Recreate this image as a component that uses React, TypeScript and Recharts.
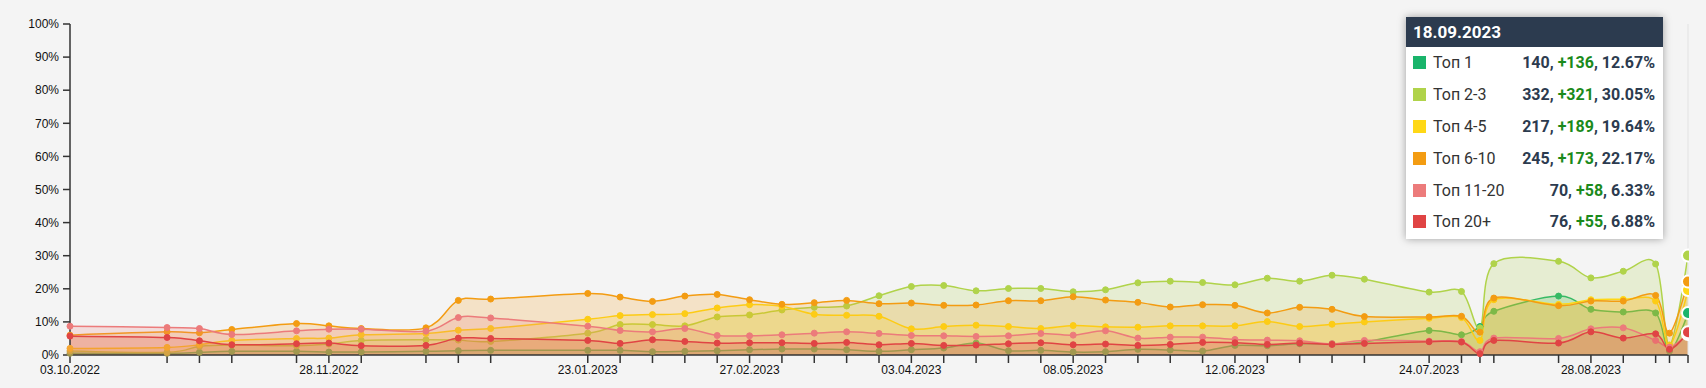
import React from "react";
import { AreaChart, Area, XAxis, YAxis, Tooltip } from "recharts";

const dates = [
  "2022-10-03", "2022-10-24", "2022-10-31", "2022-11-07", "2022-11-21", "2022-11-28", "2022-12-05",
  "2022-12-19", "2022-12-26", "2023-01-02", "2023-01-23", "2023-01-30", "2023-02-06", "2023-02-13",
  "2023-02-20", "2023-02-27", "2023-03-06", "2023-03-13", "2023-03-20", "2023-03-27", "2023-04-03",
  "2023-04-10", "2023-04-17", "2023-04-24", "2023-05-01", "2023-05-08", "2023-05-15", "2023-05-22",
  "2023-05-29", "2023-06-05", "2023-06-12", "2023-06-19", "2023-06-26", "2023-07-03", "2023-07-10",
  "2023-07-24", "2023-07-31", "2023-08-04", "2023-08-07", "2023-08-21", "2023-08-28", "2023-09-04",
  "2023-09-11", "2023-09-14", "2023-09-18",
];

// share of keywords per position group, %
const top1 = [
  0.5, 0.5, 0.8, 1.1, 1.1, 0.9, 0.9, 1.1, 1.3, 1.4, 1.4, 1.4, 1.0, 1.1, 1.3, 1.6, 1.8, 1.8, 1.6, 1.1, 1.6,
  2.1, 3.6, 1.3, 1.4, 0.9, 1.0, 1.7, 1.5, 1.2, 2.9, 2.8, 3.4, 3.4, 3.9, 7.4, 6.1, 8.6, 13.2, 17.8, 13.8,
  13.0, 12.7, 1.2, 12.67,
];
const top2to3 = [
  1.2, 0.8, 2.6, 3.0, 2.8, 3.3, 4.4, 4.6, 4.5, 4.1, 6.6, 9.2, 9.2, 8.8, 11.5, 12.1, 13.6, 14.4, 14.8, 17.9,
  20.7, 21.0, 19.4, 20.1, 20.1, 19.1, 19.7, 21.8, 22.3, 21.9, 21.2, 23.2, 22.3, 24.1, 22.9, 19.0, 19.2, 8.2,
  27.6, 28.3, 23.3, 25.3, 27.5, 3.0, 30.05,
];
const top4to5 = [
  2.0, 2.3, 3.1, 4.4, 5.0, 5.1, 6.1, 6.5, 7.5, 8.0, 10.8, 11.9, 12.2, 12.5, 14.2, 15.2, 14.7, 12.3, 12.0,
  11.7, 7.9, 8.6, 9.0, 8.6, 8.0, 8.9, 8.5, 8.4, 8.8, 8.8, 8.8, 10.1, 8.6, 9.3, 10.0, 11.1, 11.3, 4.4, 16.7,
  15.3, 16.7, 16.8, 16.3, 2.9, 19.64,
];
const top6to10 = [
  6.0, 7.0, 6.7, 7.7, 9.5, 8.8, 8.0, 8.2, 16.5, 16.9, 18.6, 17.5, 16.2, 17.8, 18.3, 16.7, 15.3, 15.8, 16.5,
  15.5, 15.7, 15.0, 15.1, 16.4, 16.4, 17.6, 16.6, 15.9, 14.5, 15.2, 15.0, 12.7, 14.4, 13.8, 11.6, 11.5,
  11.7, 6.9, 17.2, 14.9, 16.3, 16.3, 18.0, 6.6, 22.17,
];
const top11to20 = [
  8.7, 8.3, 8.0, 6.2, 7.3, 7.8, 7.8, 7.2, 11.3, 11.2, 8.7, 7.4, 7.0, 8.0, 5.9, 5.8, 6.1, 6.6, 7.0, 6.5,
  5.9, 5.8, 5.6, 5.8, 6.5, 6.0, 7.3, 5.1, 5.4, 5.4, 4.7, 4.5, 4.3, 3.4, 4.4, 4.2, 4.1, 1.0, 5.1, 5.0, 7.9,
  8.2, 4.4, 2.4, 6.33,
];
const top20plus = [
  5.7, 5.3, 4.3, 3.1, 3.4, 3.6, 2.8, 2.9, 5.1, 5.0, 4.4, 3.5, 4.6, 4.1, 3.6, 3.7, 3.7, 3.5, 3.8, 3.1, 3.5,
  2.9, 3.0, 3.4, 3.7, 3.1, 3.3, 2.9, 3.2, 3.8, 3.7, 3.2, 3.6, 3.2, 3.5, 4.0, 3.9, 0.4, 4.4, 3.6, 7.0, 5.1,
  6.4, 1.7, 6.88,
];

const seriesNames = ["Топ 1", "Топ 2-3", "Топ 4-5", "Топ 6-10", "Топ 11-20", "Топ 20+"];
const seriesKeys = ["top1", "top2to3", "top4to5", "top6to10", "top11to20", "top20plus"];
const seriesColors = ["#19b46b", "#b0d34a", "#ffd816", "#f39c12", "#ec7b7b", "#e04444"];
const seriesValues = [top1, top2to3, top4to5, top6to10, top11to20, top20plus];

// tooltip figures for the hovered week
const tooltipCounts = [140, 332, 217, 245, 70, 76];
const tooltipDeltas = [136, 321, 189, 173, 58, 55];

const labeledDates = [
  "2022-10-03", "2022-11-28", "2023-01-23", "2023-02-27", "2023-04-03",
  "2023-05-08", "2023-06-12", "2023-07-24", "2023-08-28",
];
const yTicks = [0, 10, 20, 30, 40, 50, 60, 70, 80, 90, 100];

const FILL_OPACITY = 0.2;

const toTime = (d: string) => {
  const [y, m, day] = d.split("-").map(Number);
  return Date.UTC(y, m - 1, day);
};
const pad = (n: number) => String(n).padStart(2, "0");
const formatDate = (t: number) => {
  const d = new Date(t);
  return `${pad(d.getUTCDate())}.${pad(d.getUTCMonth() + 1)}.${d.getUTCFullYear()}`;
};

const data = dates.map((d, i) => {
  const row: any = { t: toTime(d) };
  seriesKeys.forEach((k, s) => (row[k] = seriesValues[s][i]));
  return row;
});
const tickTimes = data.map((r) => r.t);
const labeled = new Set(labeledDates.map(toTime));
const lastIndex = data.length - 1;

const hexRgb = (h: string) => [1, 3, 5].map((p) => parseInt(h.slice(p, p + 2), 16));

// dots sit in their own layer above every fill; tint them by the fills
// of later series that cover the point, as the original drawing order does
const dotColor = (s: number, idx: number) => {
  let c = hexRgb(seriesColors[s]);
  const v = seriesValues[s][idx];
  for (let j = s + 1; j < seriesValues.length; j++) {
    if (seriesValues[j][idx] >= v) {
      const o = hexRgb(seriesColors[j]);
      c = c.map((ch, k) => ch * (1 - FILL_OPACITY) + o[k] * FILL_OPACITY);
    }
  }
  return `rgb(${c.map(Math.round).join(",")})`;
};

// cardinal spline (tension 0), same shape as d3.curveCardinal
class CardinalCurve {
  _context: any;
  _k: number;
  _line: number = NaN;
  _point = 0;
  _x0 = NaN; _x1 = NaN; _x2 = NaN;
  _y0 = NaN; _y1 = NaN; _y2 = NaN;
  constructor(context: any, tension: number) {
    this._context = context;
    this._k = (1 - tension) / 6;
  }
  areaStart() { this._line = 0; }
  areaEnd() { this._line = NaN; }
  lineStart() {
    this._x0 = this._x1 = this._x2 = this._y0 = this._y1 = this._y2 = NaN;
    this._point = 0;
  }
  lineEnd() {
    switch (this._point) {
      case 2: this._context.lineTo(this._x2, this._y2); break;
      case 3: this.seg(this._x1, this._y1); break;
    }
    if (this._line || (this._line !== 0 && this._point === 1)) this._context.closePath();
    this._line = 1 - this._line;
  }
  seg(x: number, y: number) {
    this._context.bezierCurveTo(
      this._x1 + this._k * (this._x2 - this._x0),
      this._y1 + this._k * (this._y2 - this._y0),
      this._x2 + this._k * (this._x1 - x),
      this._y2 + this._k * (this._y1 - y),
      this._x2,
      this._y2
    );
  }
  point(x: number, y: number) {
    x = +x; y = +y;
    switch (this._point) {
      case 0:
        this._point = 1;
        if (this._line) this._context.lineTo(x, y);
        else this._context.moveTo(x, y);
        break;
      case 1:
        this._point = 2;
        this._x1 = x; this._y1 = y;
        break;
      case 2:
        this._point = 3;
        this.seg(x, y);
        break;
      default:
        this.seg(x, y);
        break;
    }
    this._x0 = this._x1; this._x1 = this._x2; this._x2 = x;
    this._y0 = this._y1; this._y1 = this._y2; this._y2 = y;
  }
}
const cardinal: any = (context: any) => new CardinalCurve(context, 0);

const axisFont = "'Liberation Sans', Arial, sans-serif";

const TooltipBox = () => (
  <div
    style={{
      width: 257,
      background: "#fff",
      boxShadow: "0 0 8px rgba(0,0,0,0.35)",
      fontFamily: "Roboto, sans-serif",
      paddingBottom: 1,
    }}
  >
    <div
      style={{
        background: "#2c3b4f",
        color: "#fff",
        height: 30,
        lineHeight: "30px",
        paddingLeft: 7,
        fontWeight: 700,
        fontSize: 17,
      }}
    >
      {formatDate(data[lastIndex].t)}
    </div>
    {seriesNames.map((name, i) => (
      <div
        key={name}
        style={{ display: "flex", alignItems: "center", height: 31.8, padding: "0 8px 0 7px" }}
      >
        <span style={{ width: 13, height: 13, background: seriesColors[i], marginRight: 7 }} />
        <span style={{ color: "#333", fontSize: 16, flex: 1 }}>{name}</span>
        <span style={{ fontWeight: 700, fontSize: 16, color: "#2c3b4f" }}>
          {tooltipCounts[i]}, <span style={{ color: "#1b8a1b" }}>+{tooltipDeltas[i]}</span>,{" "}
          {seriesValues[i][lastIndex].toFixed(2)}%
        </span>
      </div>
    ))}
  </div>
);

export default function App() {
  return (
    <div style={{ background: "#f4f4f4", width: 1706, height: 388 }}>
      <style>{`body{margin:0;background:#f4f4f4}`}</style>
      <AreaChart width={1689} height={388} data={data} margin={{ top: 24, right: 1, bottom: 0, left: 0 }}>
        <XAxis
          dataKey="t"
          type="number"
          domain={["dataMin", "dataMax"]}
          ticks={tickTimes}
          interval={0}
          tickFormatter={(t: number) => (labeled.has(t) ? formatDate(t) : "")}
          height={33}
          tickSize={8}
          tickMargin={2}
          axisLine={{ stroke: "#333", strokeWidth: 1.5 }}
          tickLine={{ stroke: "#333", strokeWidth: 1.5 }}
          tick={{ fill: "#111", fontSize: 12, fontFamily: axisFont }}
        />
        <YAxis
          type="number"
          domain={[0, 100]}
          ticks={yTicks}
          interval={0}
          width={70}
          tickFormatter={(v: number) => `${v}%`}
          tickSize={7}
          tickMargin={4}
          axisLine={{ stroke: "#333", strokeWidth: 1.5 }}
          tickLine={{ stroke: "#333", strokeWidth: 1.5 }}
          tick={{ fill: "#111", fontSize: 12, fontFamily: axisFont }}
        />
        <Tooltip
          active
          defaultIndex={lastIndex}
          position={{ x: 1406, y: 17 }}
          isAnimationActive={false}
          cursor={{ stroke: "#e2e2e2", strokeWidth: 1 }}
          content={() => <TooltipBox />}
          wrapperStyle={{ zIndex: 10, outline: "none" }}
        />
        {seriesKeys.map((k, i) => (
          <Area
            key={k}
            dataKey={k}
            name={seriesNames[i]}
            type={cardinal}
            stroke={seriesColors[i]}
            strokeWidth={1.5}
            fill={seriesColors[i]}
            fillOpacity={FILL_OPACITY}
            dot={(p: any) => {
              const c = dotColor(i, p.index);
              return <circle key={`dot-${k}-${p.index}`} cx={p.cx} cy={p.cy} r={3} fill={c} stroke={c} strokeWidth={1} />;
            }}
            activeDot={{ r: 6, fill: seriesColors[i], fillOpacity: 1, stroke: "#fff", strokeWidth: 2 }}
            isAnimationActive={false}
          />
        ))}
      </AreaChart>
    </div>
  );
}
